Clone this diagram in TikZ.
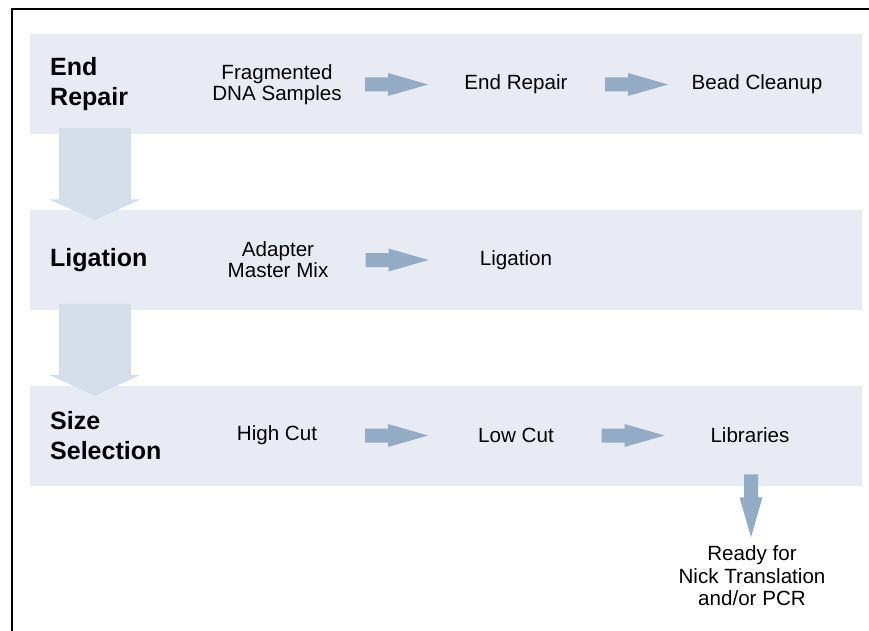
\documentclass[tikz,border=0pt]{standalone}
\usepackage{fontspec}
\setmainfont{Liberation Sans}
\usepackage{tikz}
\usetikzlibrary{calc}
\definecolor{BandGrey}{RGB}{232,235,243}
\definecolor{BigArrowBlue}{RGB}{213,223,233}
\definecolor{SmallArrowBlue}{RGB}{148,171,198}

\begin{document}
\begin{tikzpicture}[x=1pt,y=-1pt,
    band/.style={fill=BandGrey, minimum width=832pt, minimum height=100pt, inner sep=0pt},
    stage/.style={anchor=west, inner sep=0pt, align=left, font=\bfseries\fontsize{25}{30}\selectfont},
    item/.style={inner sep=0pt, align=center, font=\fontsize{20.6}{21}\selectfont},
    pics/smallarrow/.style={code={\fill[SmallArrowBlue] (-31.5,-7) -- (-8.5,-7) -- (-8.5,-11.5) -- (31.5,0) -- (-8.5,11.5) -- (-8.5,7) -- (-31.5,7) -- cycle;}},
    pics/bigarrow/.style={code={\fill[BigArrowBlue] (-36,-44) -- (36,-44) -- (36,27) -- (46,27) -- (0,48) -- (-46,27) -- (-36,27) -- cycle;}}]
    \useasboundingbox (0,0) rectangle (869,631);
    %%Frame
    \draw[line width=2pt] (11.5,631) -- (11.5,9) -- (869,9);
    %%Bands
    \node[band] (endrepairband) at (446,84.5) {};
    \node[band] (ligationband) at (446,260) {};
    \node[band] (sizeband) at (446,435.5) {};
    \pic at ($(endrepairband.west)!0.5!(ligationband.west)+(65,0)$) {bigarrow};
    \pic at ($(ligationband.west)!0.5!(sizeband.west)+(65,0)$) {bigarrow};
    %%Stage names
    \node[stage] (endrepairlbl) at (50,84.5) {End\\Repair};
    \node[stage] (ligationlbl) at (50,260) {Ligation};
    \node[stage] (sizelbl) at (50,435.5) {Size\\Selection};
    %%Steps
    \node[item] (fragdna) at (277,84.5) {Fragmented\\DNA Samples};
    \node[item] (endrepair) at (516,84.5) {End Repair};
    \node[item] (beadclean) at (757,84.5) {Bead Cleanup};
    \node[item] (adapter) at (278,260) {Adapter\\Master Mix};
    \node[item] (ligation) at (516,260) {Ligation};
    \node[item] (highcut) at (277,435.5) {High Cut};
    \node[item] (lowcut) at (516,435.5) {Low Cut};
    \node[item] (libraries) at (750,435.5) {Libraries};
    \node[item, font=\fontsize{20.6}{22.5}\selectfont] (ready) at (752,576) {Ready for\\Nick Translation\\and/or PCR};
    %%Arrows
    \pic at ($(fragdna)!0.5!(endrepair)$) {smallarrow};
    \pic at ($(endrepair)!0.5!(beadclean)$) {smallarrow};
    \pic at ($(adapter)!0.5!(ligation)$) {smallarrow};
    \pic at ($(highcut)!0.5!(lowcut)$) {smallarrow};
    \pic at ($(lowcut)!0.5!(libraries)$) {smallarrow};
    \pic[rotate=-90] at ($(libraries)!0.5!(ready)$) {smallarrow};
\end{tikzpicture}
\end{document}
